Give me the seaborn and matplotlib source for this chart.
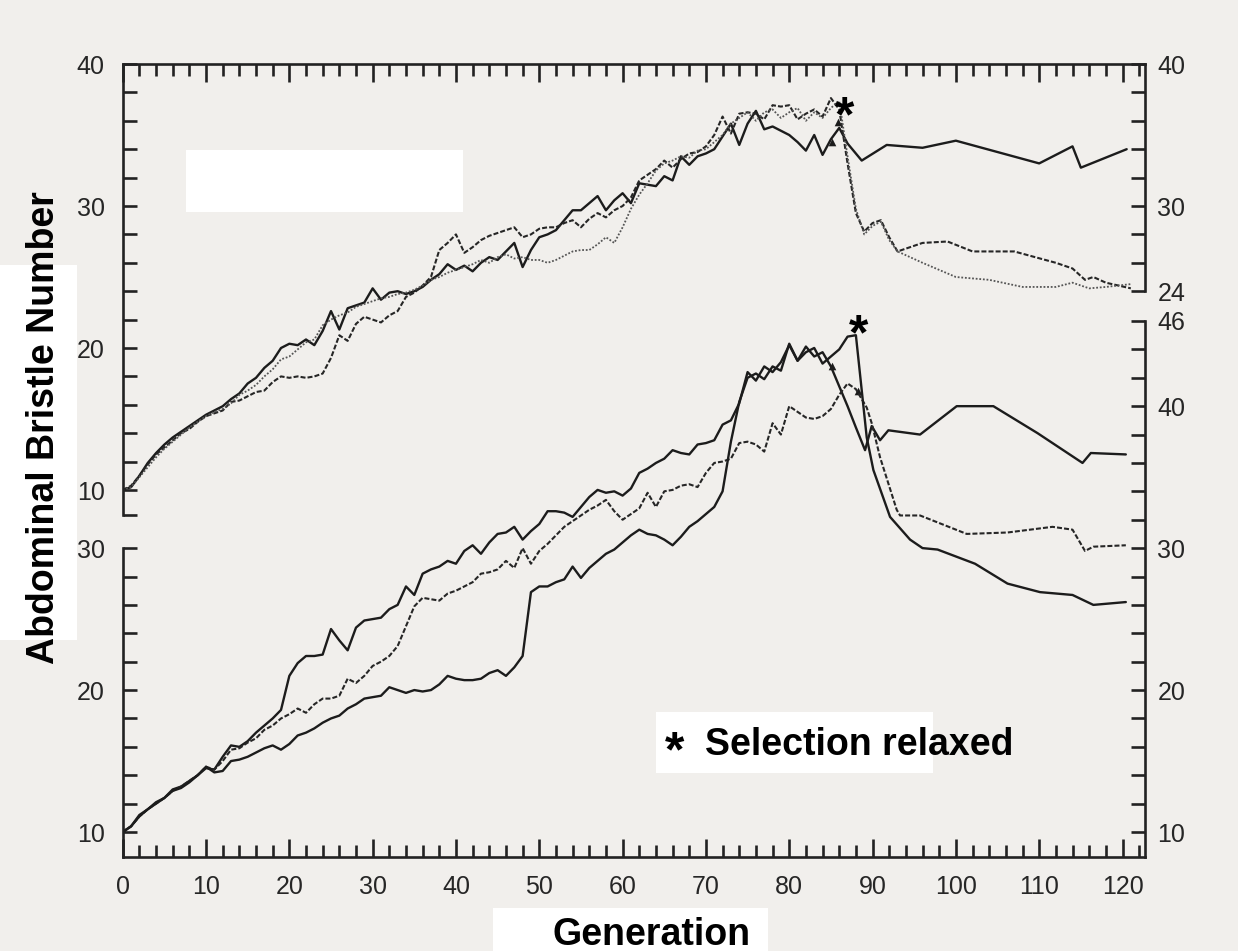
import matplotlib
matplotlib.use("Agg")
import matplotlib.pyplot as plt
import seaborn as sns
from matplotlib.patches import Rectangle

# ---------------- data ----------------
generation_ticks = [0, 10, 20, 30, 40, 50, 60, 70, 80, 90, 100, 110, 120]

# upper panel (three replicate lines; selection relaxed at gen ~86)
up_solid_gen = list(range(87)) + [87, 88.7, 91.7, 96, 100, 110, 114, 115, 120.5]
up_solid = [10.0, 10.2, 11.0, 11.9, 12.6, 13.2, 13.7, 14.1, 14.5, 14.9,
            15.3, 15.6, 15.9, 16.4, 16.8, 17.5, 17.9, 18.6, 19.1, 20.0,
            20.3, 20.2, 20.6, 20.2, 21.2, 22.6, 21.3, 22.8, 23.0, 23.2,
            24.2, 23.4, 23.9, 24.0, 23.8, 24.0, 24.3, 24.8, 25.2, 25.9,
            25.5, 25.8, 25.4, 26.0, 26.4, 26.2, 26.8, 27.4, 25.7, 26.9,
            27.8, 28.0, 28.3, 29.0, 29.7, 29.7, 30.2, 30.7, 29.7, 30.4,
            30.9, 30.2, 31.6, 31.5, 31.4, 32.1, 31.8, 33.5, 32.9, 33.5,
            33.7, 34.0, 34.9, 35.8, 34.3, 35.8, 36.7, 35.4, 35.6, 35.3,
            35.0, 34.5, 33.9, 35.0, 33.6, 34.7, 35.5,
            34.4, 33.2, 34.3, 34.1, 34.6, 33.0, 34.2, 32.7, 34.0]

up_dashed_gen = list(range(87)) + [87, 88, 89, 90, 91, 92, 93, 96, 99, 102, 107,
                                   112, 114, 115.5, 116.5, 118, 121]
up_dashed = [10.0, 10.3, 11.0, 11.8, 12.5, 13.0, 13.5, 14.0, 14.3, 14.8,
             15.2, 15.4, 15.6, 16.2, 16.3, 16.6, 16.9, 17.0, 17.6, 18.0,
             17.9, 18.0, 17.9, 18.0, 18.2, 19.3, 20.9, 20.5, 21.7, 22.2,
             22.0, 21.8, 22.3, 22.6, 23.6, 23.9, 24.4, 25.0, 26.9, 27.4,
             28.0, 26.7, 27.1, 27.6, 27.9, 28.1, 28.3, 28.5, 27.8, 28.0,
             28.4, 28.5, 28.5, 28.8, 29.0, 28.5, 29.1, 29.5, 29.2, 29.7,
             30.0, 30.6, 31.8, 32.2, 32.6, 33.2, 32.7, 33.3, 33.7, 33.8,
             34.2, 35.0, 36.3, 35.1, 36.5, 36.6, 36.5, 36.1, 37.1, 37.0,
             37.1, 36.1, 36.5, 36.8, 36.3, 37.6, 36.8,
             33.0, 29.5, 28.2, 28.8, 29.0, 27.8, 26.8, 27.4, 27.5, 26.8, 26.8,
             26.0, 25.6, 24.8, 25.0, 24.6, 24.2]

up_dotted_gen = list(range(87)) + [87, 88, 89, 90, 91, 92, 93, 96, 100, 104, 108,
                                   112, 114, 116, 118, 121]
up_dotted = [10.0, 10.2, 10.9, 11.6, 12.3, 12.9, 13.4, 13.9, 14.4, 14.8,
             15.2, 15.5, 15.7, 16.1, 16.7, 17.0, 17.4, 18.0, 18.5, 19.2,
             19.4, 19.9, 20.4, 20.6, 21.6, 22.0, 22.3, 22.5, 22.9, 23.1,
             23.3, 23.5, 23.6, 23.8, 23.9, 24.1, 24.4, 24.8, 25.0, 25.3,
             25.5, 25.7, 25.9, 26.2, 26.0, 26.4, 26.6, 26.3, 26.4, 26.2,
             26.2, 26.0, 26.2, 26.5, 26.8, 26.9, 26.9, 27.3, 27.8, 27.4,
             28.5, 29.8, 30.8, 31.6, 32.5, 33.0, 33.2, 33.5, 33.4, 33.9,
             34.0, 34.5, 35.0, 35.8, 36.2, 36.6, 36.0, 36.6, 36.8, 36.2,
             36.6, 36.9, 36.0, 36.6, 36.2, 36.9, 37.4,
             33.5, 29.8, 28.0, 28.6, 28.9, 27.6, 26.8, 26.0, 25.0, 24.8, 24.3,
             24.3, 24.6, 24.2, 24.3, 24.5]

# lower panel
low_a_gen = list(range(86)) + [87, 88, 89.1, 89.9, 90.9, 91.9, 95.7, 100.1, 104.5,
                               109.8, 115.2, 116.2, 120.4]
low_a = [10.0, 10.4, 11.2, 11.6, 12.1, 12.4, 13.0, 13.2, 13.6, 14.0,
         14.5, 14.4, 15.3, 16.1, 16.0, 16.4, 17.0, 17.5, 18.0, 18.6,
         21.0, 21.9, 22.4, 22.4, 22.5, 24.3, 23.5, 22.8, 24.4, 24.9,
         25.0, 25.1, 25.7, 26.0, 27.3, 26.7, 28.2, 28.5, 28.7, 29.1,
         28.9, 29.8, 30.2, 29.6, 30.4, 31.0, 31.1, 31.5, 30.6, 31.2,
         31.7, 32.6, 32.6, 32.5, 32.2, 32.9, 33.6, 34.1, 33.9, 34.0,
         33.7, 34.2, 35.3, 35.6, 36.0, 36.3, 36.9, 36.7, 36.6, 37.3,
         37.4, 37.6, 38.7, 39.0, 40.2, 42.4, 41.8, 42.8, 42.4, 43.1,
         44.3, 43.2, 44.2, 43.5, 43.8, 42.8,
         40.0, 38.5, 36.9, 38.6, 37.6, 38.3, 38.0, 40.0, 40.0, 38.1, 36.0, 36.7, 36.6]

low_b_gen = list(range(89)) + [89.3, 89.9, 90.9, 92.9, 93.3, 95.7, 101.3, 106.2,
                               111.6, 114, 115.5, 116.5, 120.4]
low_b = [10.0, 10.4, 11.1, 11.6, 12.0, 12.4, 12.9, 13.2, 13.6, 14.0,
         14.6, 14.4, 15.0, 15.8, 15.9, 16.3, 16.6, 17.2, 17.5, 18.0,
         18.3, 18.7, 18.4, 19.0, 19.4, 19.4, 19.6, 20.8, 20.5, 21.0,
         21.7, 22.0, 22.4, 23.1, 24.5, 25.9, 26.5, 26.4, 26.3, 26.8,
         27.0, 27.3, 27.6, 28.2, 28.3, 28.5, 29.1, 28.6, 30.0, 28.9,
         29.8, 30.3, 30.9, 31.5, 31.9, 32.3, 32.7, 33.0, 33.4, 32.6,
         32.0, 32.4, 32.8, 33.9, 32.9, 34.0, 34.1, 34.4, 34.5, 34.3,
         35.3, 36.0, 36.1, 36.3, 37.4, 37.5, 37.3, 36.8, 38.8, 38.0,
         40.0, 39.6, 39.2, 39.1, 39.3, 39.8, 40.8, 41.6, 41.2,
         39.9, 38.8, 36.4, 32.7, 32.3, 32.3, 31.0, 31.1, 31.5, 31.3, 29.8, 30.1, 30.2]

low_c_gen = list(range(89)) + [89.3, 90.1, 92.1, 94.5, 96, 97.8, 102.3, 106.2,
                               110.1, 114, 116.5, 120.4]
low_c = [10.0, 10.4, 11.1, 11.6, 12.0, 12.4, 12.9, 13.1, 13.5, 14.0,
         14.6, 14.2, 14.3, 15.0, 15.1, 15.3, 15.6, 15.9, 16.1, 15.8,
         16.2, 16.8, 17.0, 17.3, 17.7, 18.0, 18.2, 18.7, 19.0, 19.4,
         19.5, 19.6, 20.2, 20.0, 19.8, 20.0, 19.9, 20.0, 20.4, 21.0,
         20.8, 20.7, 20.7, 20.8, 21.2, 21.4, 21.0, 21.6, 22.4, 26.9,
         27.3, 27.3, 27.6, 27.8, 28.7, 27.9, 28.6, 29.1, 29.6, 29.9,
         30.4, 30.9, 31.3, 31.0, 30.9, 30.6, 30.2, 30.8, 31.5, 31.9,
         32.4, 32.9, 34.0, 37.5, 40.3, 42.0, 42.3, 41.9, 42.8, 42.5,
         44.4, 43.2, 43.8, 44.1, 43.0, 43.5, 44.0, 44.9, 45.0,
         37.8, 35.5, 32.2, 30.6, 30.0, 29.9, 28.9, 27.5, 26.9, 26.7, 26.0, 26.2]

# small triangles marking the last selected generation
up_tri_gen = [85.1, 85.8]
up_tri_val = [34.5, 35.9]
low_tri_gen = [85.1, 88.3]
low_tri_val = [42.8, 41.1]

# asterisks (selection relaxed)
up_star = (86.6, 35.25)
low_star = (88.3, 44.0)

# axis tick labels
up_left_labels = [10, 20, 30, 40]
up_right_labels = [24, 30, 40]
low_left_labels = [10, 20, 30]
low_right_labels = [10, 20, 30, 40, 46]

# ---------------- style ----------------
sns.set_theme(style="ticks")
plt.rcParams["font.family"] = ["Liberation Sans", "DejaVu Sans"]

W, H = 1238, 951
fig = plt.figure(figsize=(W / 100, H / 100), dpi=100)
BG = "#f1efec"
fig.patch.set_facecolor(BG)


def fx(px):
    return px / W


def fy(py):
    return 1 - py / H


LEFT, RIGHT = 122.7, 1145.0
TOP1, BOT1 = 64.0, 515.0
TOP2, BOT2 = 321.0, 857.0
X_MAX = 122.7
UP_LIM = (8.24, 40.0)
LOW_LIM = (8.24, 46.0)

# white cover boxes from the original scan edit
for (x0, y0, x1, y1) in [(186, 150, 463, 212), (0, 265, 77, 640),
                         (493, 908, 768, 951), (656, 712, 933, 773)]:
    fig.patches.append(Rectangle((fx(x0), fy(y1)), fx(x1) - fx(x0), fy(y0) - fy(y1),
                                 transform=fig.transFigure, facecolor="white",
                                 edgecolor="none", zorder=-5))

ax1 = fig.add_axes([fx(LEFT), fy(BOT1), fx(RIGHT) - fx(LEFT), fy(TOP1) - fy(BOT1)])
ax2 = fig.add_axes([fx(LEFT), fy(BOT2), fx(RIGHT) - fx(LEFT), fy(TOP2) - fy(BOT2)])
ax1r = ax1.twinx()
ax2r = ax2.twinx()
for a in (ax1, ax2, ax1r, ax2r):
    a.set_facecolor("none")
    a.grid(False)

INK = "#1c1c1c"
SOLID = dict(color=INK, lw=1.7)
DASHED = dict(color="#262626", lw=1.5, linestyle=(0, (2.4, 1.0)))
DOTTED = dict(color="#555555", lw=1.3, linestyle=(0, (1.0, 1.0)))

sns.lineplot(x=up_solid_gen, y=up_solid, ax=ax1, estimator=None, sort=False, **SOLID)
sns.lineplot(x=up_dashed_gen, y=up_dashed, ax=ax1, estimator=None, sort=False, **DASHED)
sns.lineplot(x=up_dotted_gen, y=up_dotted, ax=ax1, estimator=None, sort=False, **DOTTED)
sns.lineplot(x=low_a_gen, y=low_a, ax=ax2, estimator=None, sort=False, **SOLID)
sns.lineplot(x=low_b_gen, y=low_b, ax=ax2, estimator=None, sort=False, **DASHED)
sns.lineplot(x=low_c_gen, y=low_c, ax=ax2, estimator=None, sort=False, **SOLID)
sns.scatterplot(x=up_tri_gen, y=up_tri_val, ax=ax1, marker="^", s=30, color=INK,
                linewidth=0)
sns.scatterplot(x=low_tri_gen, y=low_tri_val, ax=ax2, marker="^", s=30, color=INK,
                linewidth=0)

for a in (ax1, ax1r):
    a.set_ylim(*UP_LIM)
for a in (ax2, ax2r):
    a.set_ylim(*LOW_LIM)
for a in (ax1, ax2, ax1r, ax2r):
    a.set_xlim(0, X_MAX)
    a.set_xlabel("")
    a.set_ylabel("")

SPW = 1.9
TICKC = "#222222"
LABC = "#262626"
TFS = 18

# spines
for a in (ax1, ax2, ax1r, ax2r):
    for s in a.spines.values():
        s.set_visible(False)
        s.set_linewidth(SPW)
        s.set_color(TICKC)
ax1.spines["top"].set_visible(True)
ax1.spines["left"].set_visible(True)
ax1r.spines["right"].set_visible(True)
ax1r.spines["right"].set_bounds(24, 40)
ax2.spines["bottom"].set_visible(True)
ax2.spines["left"].set_visible(True)
ax2.spines["left"].set_bounds(LOW_LIM[0], 30)
ax2r.spines["right"].set_visible(True)
ax2r.spines["right"].set_bounds(LOW_LIM[0], 46)

# x ticks
major_x = generation_ticks
minor_x = [g for g in range(0, 123, 2) if g % 10 != 0]
ax1.xaxis.set_ticks_position("top")
ax1.set_xticks(major_x)
ax1.set_xticks(minor_x, minor=True)
ax1.tick_params(axis="x", which="both", direction="in", top=True, bottom=False,
                labeltop=False, labelbottom=False, color=TICKC, width=SPW)
ax1.tick_params(axis="x", which="major", length=13)
ax1.tick_params(axis="x", which="minor", length=8.5)

ax2.set_xticks(major_x)
ax2.set_xticks(minor_x, minor=True)
ax2.set_xticklabels([str(g) for g in major_x])
ax2.tick_params(axis="x", which="both", direction="in", top=False, bottom=True,
                labelbottom=True, color=TICKC, width=SPW, pad=13,
                labelsize=TFS, labelcolor=LABC)
ax2.tick_params(axis="x", which="major", length=13)
ax2.tick_params(axis="x", which="minor", length=8.5)
for a in (ax1r, ax2r):
    a.tick_params(axis="x", which="both", top=False, bottom=False,
                  labeltop=False, labelbottom=False)


# y ticks
def set_y(a, labels, lo, hi, side, foot=None):
    a.set_yticks(labels)
    a.set_yticklabels([str(v) for v in labels])
    minors = [v for v in range(lo, hi + 1, 2) if v not in labels]
    if foot is not None:
        minors = [foot] + minors
    a.set_yticks(minors, minor=True)
    a.yaxis.set_ticks_position(side)
    kw = dict(axis="y", which="both", direction="in", length=10, width=SPW,
              color=TICKC, labelsize=TFS, labelcolor=LABC)
    if side == "left":
        a.tick_params(left=True, right=False, labelleft=True, labelright=False,
                      pad=13, **kw)
    else:
        a.tick_params(left=False, right=True, labelleft=False, labelright=True,
                      pad=9, **kw)


set_y(ax1, up_left_labels, 10, 40, "left", foot=8.27)
set_y(ax1r, up_right_labels, 24, 40, "right")
set_y(ax2, low_left_labels, 10, 30, "left")
set_y(ax2r, low_right_labels, 10, 46, "right")

# asterisks at relaxation points
ax1.text(up_star[0], up_star[1], "*", ha="center", va="baseline", fontsize=36,
         fontweight="bold", color="black", clip_on=False)
ax2.text(low_star[0], low_star[1], "*", ha="center", va="baseline", fontsize=36,
         fontweight="bold", color="black", clip_on=False)

# figure texts
fig.text(fx(44), fy(427.5), "Abdominal Bristle Number", rotation=90, ha="center",
         va="center", fontsize=27, fontweight="bold", color="black")
fig.text(fx(652), fy(945), "Generation", ha="center", va="baseline", fontsize=27,
         fontweight="bold", color="black")
fig.text(fx(675), fy(766), "*", ha="center", va="baseline", fontsize=36,
         fontweight="bold", color="black")
fig.text(fx(705), fy(755), "Selection relaxed", ha="left", va="baseline",
         fontsize=27, fontweight="bold", color="black")

fig.savefig("out.png", dpi=100, facecolor=BG)
